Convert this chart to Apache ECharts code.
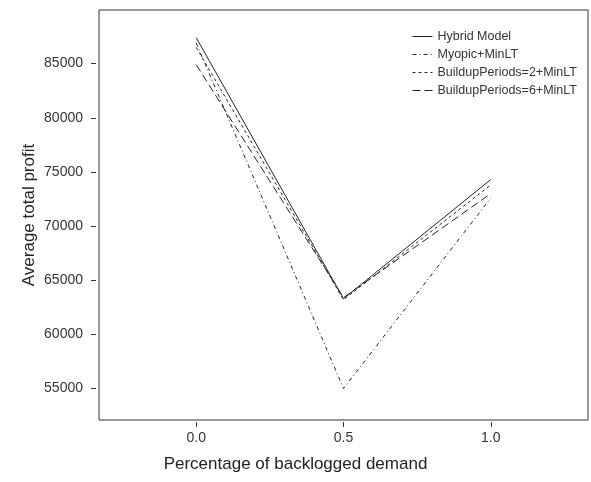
<!DOCTYPE html>
<html>
<head>
<meta charset="utf-8">
<script src="https://cdn.jsdelivr.net/npm/echarts@6/dist/echarts.min.js"></script>
<style>
  html, body { margin: 0; padding: 0; background: #fff; }
  #chart { width: 591px; height: 482px; }
</style>
</head>
<body>
<div id="chart"></div>
<script>
// data
const xValues = [0, 0.5, 1]
const hybrid = [87400, 63300, 74300]
const myopic = [86900, 55000, 72600]
const buildup2 = [86500, 63200, 73800]
const buildup6 = [84900, 63400, 73000]
const xTicks = [0, 0.5, 1]
const yTicks = [55000, 60000, 65000, 70000, 75000, 80000, 85000]

const pairs = (ys) => xValues.map((x, i) => [x, ys[i]])

const lineSeries = (name, ys, dash) => ({
  name: name,
  type: 'line',
  data: pairs(ys),
  symbol: 'none',
  lineStyle: { color: '#222', width: 1, type: dash },
  itemStyle: { color: '#222' }
})

const chart = echarts.init(document.getElementById('chart'))
chart.setOption({
  animation: false,
  title: {
    text: 'Percentage of backlogged demand',
    left: 'center',
    top: 451,
    textStyle: { fontFamily: 'Liberation Sans', fontSize: 17, fontWeight: 'normal', color: '#222' }
  },
  legend: {
    orient: 'vertical',
    left: 407,
    top: 25,
    itemWidth: 20,
    itemHeight: 14,
    itemGap: 5,
    itemStyle: { opacity: 0 },
    lineStyle: { width: 1 },
    textStyle: { fontFamily: 'Liberation Sans', fontSize: 12.5, color: '#333' },
    data: ['Hybrid Model', 'Myopic+MinLT', 'BuildupPeriods=2+MinLT', 'BuildupPeriods=6+MinLT']
  },
  grid: {
    left: 99,
    right: 3,
    top: 10,
    bottom: 62,
    show: true,
    borderColor: '#333',
    borderWidth: 1
  },
  xAxis: {
    type: 'value',
    min: -0.33,
    max: 1.33,
    offset: 2,
    axisLine: { show: false, onZero: false },
    splitLine: { show: false },
    axisTick: { show: true, length: 5, lineStyle: { color: '#333' }, customValues: xTicks },
    axisLabel: {
      customValues: xTicks,
      margin: 9,
      fontFamily: 'Liberation Sans',
      fontSize: 14,
      color: '#333',
      formatter: (v) => v.toFixed(1)
    }
  },
  yAxis: {
    type: 'value',
    min: 52100,
    max: 89950,
    offset: 3,
    name: 'Average total profit',
    nameLocation: 'middle',
    nameGap: 58,
    nameMoveOverlap: false,
    nameTextStyle: { fontFamily: 'Liberation Sans', fontSize: 17, color: '#222' },
    axisLine: { show: false, onZero: false },
    splitLine: { show: false },
    axisTick: { show: true, length: 5, lineStyle: { color: '#333' }, customValues: yTicks },
    axisLabel: {
      customValues: yTicks,
      margin: 13,
      fontFamily: 'Liberation Sans',
      fontSize: 14,
      color: '#333',
      formatter: (v) => String(v)
    }
  },
  series: [
    lineSeries('Hybrid Model', hybrid, 'solid'),
    lineSeries('Myopic+MinLT', myopic, [4, 3, 1, 3]),
    lineSeries('BuildupPeriods=2+MinLT', buildup2, [3, 3]),
    lineSeries('BuildupPeriods=6+MinLT', buildup6, [8, 4])
  ]
})
</script>
</body>
</html>
